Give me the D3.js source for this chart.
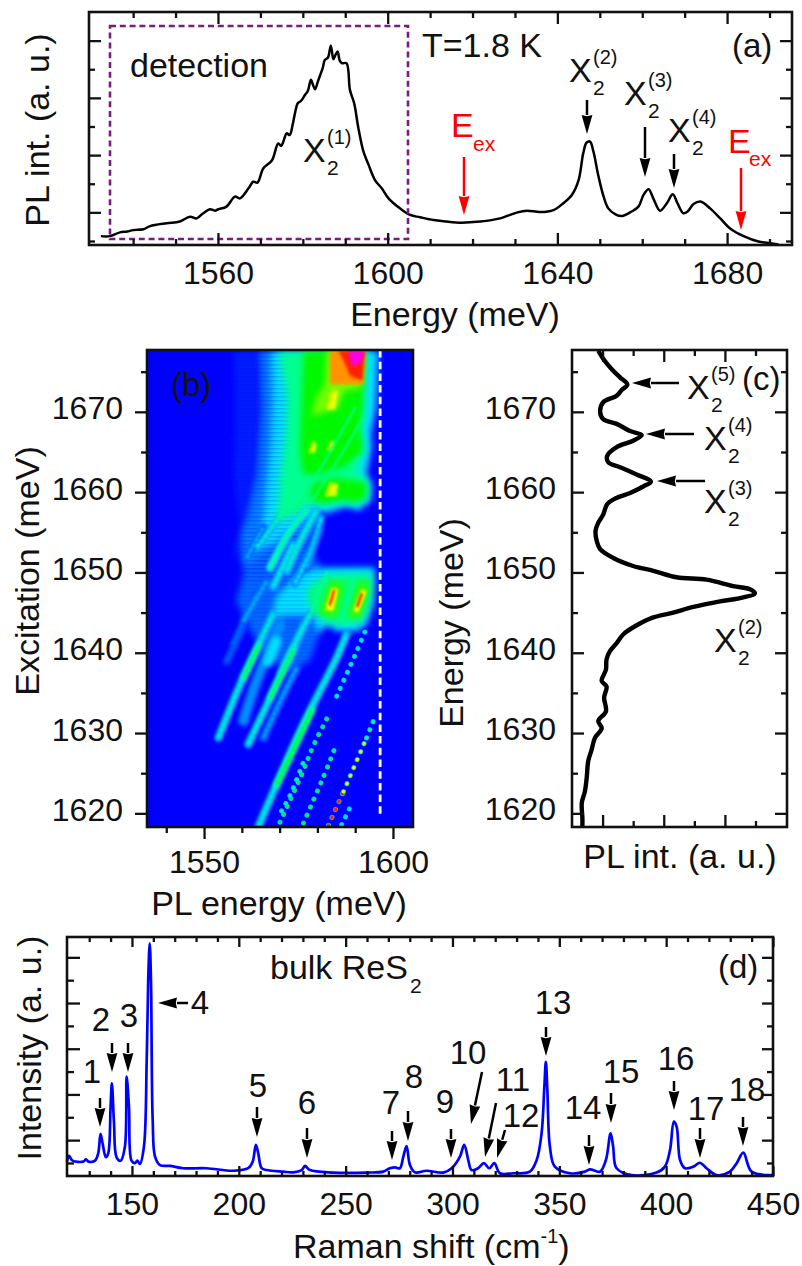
<!DOCTYPE html>
<html lang="en">
<head>
<meta charset="UTF-8">
<title>ReS2 PL and Raman</title>
<script src="https://d3js.org/d3.v7.min.js"></script>
<style>
  html, body { margin: 0; padding: 0; background: #fff; }
  svg { display: block; font-family: "Liberation Sans", Arial, sans-serif; fill: #111; }
  .domain { display: none; }
  .tick line { stroke: #111; stroke-width: 2.3; }
  .tick text { font-size: 32px; fill: #111; }
</style>
</head>
<body>
<svg id="fig" width="802" height="1266"></svg>
<script>
// panel (a) PL spectrum
const aEnergy = [1532.4,1534.5,1536.9,1538.6,1540,1542.4,1544,1547.9,1551,1553.4,1555,1556.5,1558.1,1559.3,1560.1,1562,1564,1565.2,1567.2,1568.3,1569.3,1570.7,1572.7,1574.2,1574.9,1575.4,1576.2,1576.9,1577.6,1578.2,1578.8,1579.6,1580.5,1581.2,1581.9,1582.4,1582.9,1583.5,1584.1,1584.7,1585.2,1585.9,1586.6,1587.2,1587.7,1588.2,1588.7,1589.2,1590.3,1591.1,1592.1,1593.1,1594.3,1595.5,1597,1598.6,1600.2,1602.9,1605.3,1607.6,1610.8,1613.9,1617,1621.8,1626.5,1630.4,1632.8,1635.9,1639.1,1641.4,1643.4,1645,1646.1,1646.9,1647.7,1648.5,1649.7,1650.9,1652,1653.6,1655.2,1657.5,1659.1,1660.3,1661.5,1662.6,1664.2,1665.8,1667.2,1668.3,1669.7,1670.7,1672.1,1673.7,1676,1678.4,1680.7,1683.9,1687.4,1690.2,1692.1];
const aIntensity = [0.17,0.17,0.3,0.33,0.38,0.41,0.52,0.62,0.68,0.85,0.79,0.97,1.11,1.06,1.11,1.2,1.55,1.49,1.84,2.07,2.04,2.54,2.81,3.41,3.32,3.47,3.76,3.7,4.06,4.5,4.81,4.9,5.1,5.25,5.63,5.45,5.3,5.55,5.8,6.05,6.33,6.4,6.82,6.35,6.5,6.62,6.3,6.21,6.21,5.28,4.81,3.94,3.12,2.66,2.13,1.84,1.49,1.14,0.91,0.83,0.73,0.68,0.64,0.68,0.79,0.99,1.06,1.01,1.08,1.32,1.61,2.13,3.07,3.44,3.47,3.12,2.25,1.55,1.14,0.94,0.87,1.03,1.2,1.61,1.81,1.49,1.06,1.32,1.63,1.32,0.97,1.03,1.29,1.38,1.14,0.79,0.44,0.17,-0.02,-0.08,-0.12];
const aMajorX = [1560,1600,1640,1680];
const aMinorX = [1540,1550,1570,1580,1590,1610,1620,1630,1650,1660,1670,1690];
const aMajorY = [1,3,5,7];
const aMinorY = [0,2,4,6];

// panel (b) map: contours, level 0 (blue) .. 9 (magenta)
const mapBackContours = [
  {level:0.3, pl:[1557.8,1558.2,1557.8,1559.5,1557.8,1561.3,1567.5,1572.8,1579.8,1583.3], ex:[1677.6,1670.5,1662.2,1655.6,1652.9,1648.9,1648.1,1652.2,1657.2,1677.6]},
  {level:1.3, pl:[1565.3,1565.7,1564.4,1561.7,1560,1560.8,1567.5,1571.9,1576.3,1579.8,1583.3], ex:[1677.6,1670.5,1662.2,1656.8,1654.7,1650.6,1648.1,1648.3,1651.8,1656.4,1677.6]},
  {level:1.1, pl:[1558.5,1562,1566,1572,1578,1581,1582,1575,1561], ex:[1646.5,1643,1640,1637.5,1639,1643,1650,1655,1650.6]},
  {level:2, pl:[1567.9,1596.1,1595.5,1594.1,1594.4,1592.9,1594.4,1594.1,1590.8,1587.7,1582.5,1578.7,1574.5,1569.2,1565.7,1565.3,1566.1,1567,1567.9,1568.3], ex:[1677.6,1677.6,1670.5,1667.2,1665.6,1662.2,1661,1658.9,1657.7,1658.2,1657.4,1657.9,1656.2,1653.9,1653.1,1654.3,1658.1,1662.2,1666.4,1671.8]},
  {level:2, pl:[1582.5,1595.2,1595,1594.8,1593,1590.4,1585.1,1582.9,1580.2,1578.9,1571.9,1568.3,1569.2,1573.6,1578], ex:[1650.6,1650.6,1647.7,1646,1643.5,1642.7,1642.7,1643.5,1642.5,1644.8,1644.8,1644.4,1646.9,1649.1,1650.2]}
];
const mapFrontContours = [
  {level:3, pl:[1569.7,1592.6,1592.2,1591.3,1592.2,1590.4,1593.2,1593.2,1590.4,1586.9,1580.7,1578,1573.6,1570.1,1568.8,1569.7,1570.1,1571.4,1571.9], ex:[1677.6,1677.6,1670.5,1668,1665.6,1662.6,1661.4,1659.3,1658.5,1658.8,1658.3,1658.5,1657.2,1656.2,1656.4,1659.3,1662.2,1666.4,1671.8]},
  {level:4, pl:[1576.3,1592.6,1592,1591.3,1592,1586.9,1579.8,1576.3,1575.4,1575.8], ex:[1677.6,1677.6,1670.5,1668,1665.1,1663.1,1662.2,1662.2,1665.1,1670.6]},
  {level:4, pl:[1578.5,1584.2,1592.8,1592.8,1590.4,1586.9,1581.1,1578], ex:[1661,1661.8,1661.2,1659.3,1658.8,1659,1658.6,1659.3]},
  {level:3.2, pl:[1582.5,1594.4,1594.1,1592.6,1590.4,1586.9,1583.3,1580.7,1578.5,1577.2,1578.5], ex:[1649.6,1649.8,1646.9,1644.8,1643.7,1643.5,1643.7,1644.4,1645.2,1647.3,1648.5]},
  {level:4.3, pl:[1580.5,1583.5,1587,1585], ex:[1644.8,1649,1648.6,1644.4]},
  {level:4.3, pl:[1588,1591,1594,1591.5], ex:[1644.5,1649,1648.5,1644.2]},
  {level:4.7, pl:[1582.5,1592.5,1591.7,1586.9,1585.5,1578.5,1579.8,1582], ex:[1677.6,1677.6,1673,1672.6,1670.5,1669.5,1671.8,1673.4]},
  {level:5.6, pl:[1582,1583.3,1585.5,1585.1], ex:[1659.5,1661.2,1661,1659.5]},
  {level:5.6, pl:[1577.6,1578.9,1579.8,1579.4], ex:[1664.9,1666.4,1666,1664.9]},
  {level:5.6, pl:[1582.5,1583.8,1584.7,1583.8], ex:[1665.3,1666.4,1666.2,1665.1]},
  {level:5.8, pl:[1582.5,1583.8,1585.5,1584.7], ex:[1670.3,1672.6,1672.6,1670.3]},
  {level:6, pl:[1582,1583.8,1585.5,1584.2], ex:[1645.4,1648.1,1647.9,1645.2]},
  {level:6, pl:[1589.5,1591.7,1593,1590.8], ex:[1645.2,1647.9,1647.7,1645]},
  {level:7, pl:[1583.3,1592.6,1592,1583.3], ex:[1677.6,1677.6,1673.4,1673.4]},
  {level:8, pl:[1585.5,1592.6,1591.9,1588.6,1586.9], ex:[1677.6,1677.6,1673.9,1674.5,1676.4]},
  {level:9, pl:[1588.2,1592.6,1591.9,1590.4,1588.8], ex:[1677.6,1677.6,1676.4,1675.7,1676]}
];
const mapWideBands = [
  {level:1.4, pl:[1560.4,1563.9,1567.5,1570.1], ex:[1631.5,1636.5,1640.6,1643.5]},
  {level:2, pl:[1567,1569.2], ex:[1638.9,1641.4]}
];
const mapLines = [
  {level:2.4, pl:[1563.9,1571.9], ex:[1653.1,1658.1]},
  {level:2.4, pl:[1568.3,1573.6], ex:[1648.2,1653.5]},
  {level:3, pl:[1567.5,1572.8,1577.2], ex:[1650.6,1655.2,1657.7]},
  {level:2.5, pl:[1571.9,1575.4,1579.8], ex:[1650.2,1653.9,1657.7]},
  {level:2, pl:[1574,1578,1581], ex:[1648.6,1652.5,1656.8]},
  {level:1.6, pl:[1577.2,1580.7], ex:[1650.6,1655.6]},
  {level:1.6, pl:[1561.3,1565.7], ex:[1651.8,1655.6]},
  {level:1.3, pl:[1557.8,1563.9], ex:[1641,1647.3]},
  {level:1.6, pl:[1560.4,1566.6], ex:[1643.9,1648.9]},
  {level:1.8, pl:[1570.1,1576.3], ex:[1637.3,1643.5]},
  {level:2.4, pl:[1553.8,1559.5,1564.4,1568.3], ex:[1629.4,1636,1641,1644.8]},
  {level:3.5, pl:[1560.4,1564.4], ex:[1636.9,1640.8]},
  {level:1, pl:[1556,1560.8], ex:[1638.9,1643.7]},
  {level:2.4, pl:[1561.7,1567.5,1572.8,1578], ex:[1628.6,1634.4,1639.8,1644.8]},
  {level:3.5, pl:[1567.5,1573.6], ex:[1634.4,1640.4]},
  {level:2.4, pl:[1564.4,1570.1,1575.4,1578.9,1585.1,1587.7], ex:[1618.4,1624.6,1630.2,1633.6,1639.4,1642.3]},
  {level:3.8, pl:[1569.2,1578.5], ex:[1623.6,1632.9]},
  {level:1.5, pl:[1565.7,1570.1,1574.5], ex:[1629.4,1633.9,1638.1]}
];
const mapDotLines = [
  {level:3.8, pl:[1570.1,1575.8,1578.9,1583.3], ex:[1618.9,1624.8,1628.4,1632.5]},
  {level:2.2, pl:[1585.1,1590.4,1593], ex:[1634.6,1640.2,1643.1]},
  {level:3.6, pl:[1576.3,1581.1,1584.7], ex:[1618.8,1624,1628.2]},
  {level:8, pl:[1582.9,1586.9], ex:[1618.5,1622.7]},
  {level:5.5, pl:[1586.9,1593], ex:[1622.7,1629.4]},
  {level:3, pl:[1593,1594.8], ex:[1629.4,1631.5]},
  {level:2, pl:[1586.4,1588.6], ex:[1618.6,1620.7]},
  {level:2.4, pl:[1570.5,1572.8,1576.3], ex:[1620.3,1622.3,1626.4]}
];
const mapTopLines = [
  {level:3.2, pl:[1578,1586.9,1592.2], ex:[1658.5,1665.1,1669.3]},
  {level:3.2, pl:[1573.6,1582.5,1590], ex:[1657.2,1664.3,1670.5]},
  {level:2.9, pl:[1578,1582.5], ex:[1644.5,1650]},
  {level:2.9, pl:[1586.5,1590], ex:[1644,1649.5]},
  {level:8, pl:[1583.3,1584.4], ex:[1646,1647.7]},
  {level:8, pl:[1590.6,1591.7], ex:[1645.8,1647.3]}
];
const mapLevels = [0,1,2,3,4,5,6,7,8,9];
const mapColors = ["#0000ff","#0058ff","#00e0ff","#00ff90","#00f800","#a8ff00","#ffff00","#ff9400","#ff2000","#ff00e0"];
const bMajorX = [1550,1600];
const bMinorX = [1540,1560,1570,1580,1590];
const exMajor = [1620,1630,1640,1650,1660,1670];
const exMinor = [1625,1635,1645,1655,1665,1675];
const detectionLine = 1596.6;

// panel (c) PLE spectrum
const cIntensity = [0.86,1.02,1.3,1.57,1.81,1.62,1.46,1.02,0.92,1.02,1.46,1.9,2.28,2,1.46,1.15,1.19,1.57,2.11,2.58,2.33,1.9,1.41,1.15,1.02,0.86,0.77,0.81,0.92,1.35,2,2.66,3.42,4.4,5.27,5.82,5.98,5.49,4.84,3.97,3.31,2.66,2.06,1.68,1.46,1.24,1.13,1.11,0.97,1.13,1.05,1.11,0.86,0.97,0.75,0.64,0.53,0.48,0.42,0.32,0.34,0.34];
const cExcitation = [1677.6,1676.6,1675.3,1674.3,1673.4,1672.7,1672,1671.2,1670,1669.1,1668.5,1667.6,1667.1,1666.4,1665.6,1664.5,1663.7,1663.1,1662.2,1661.3,1660.7,1659.9,1659.2,1658.5,1657.2,1656.2,1655.2,1653.9,1652.9,1651.8,1650.8,1650.2,1649.4,1649.1,1648.3,1647.9,1647.4,1646.8,1646.4,1645.7,1645,1644.4,1643.3,1642.3,1641.2,1640.2,1639.2,1637.9,1636.5,1635.8,1634.4,1632.7,1631.5,1630.6,1629.4,1627.9,1626.5,1624.4,1622.7,1621.3,1619.4,1618.4];
const cMajorX = [1,3,5];
const cMinorX = [2,4,6];

// panel (d) Raman spectrum
const dShift = [119.6,120.5,122.2,127.2,128.5,129.6,132.7,134.2,135.3,136.3,137.8,138.9,140,140.6,141.6,142.8,144.7,146.7,147.5,148.6,149.8,151.4,152.5,153.7,155.6,156.9,157.6,158.3,158.9,159.7,160.8,163.1,167.8,174,184.9,197.4,204.4,206.5,208,209.1,210.7,213,220.8,225.5,229.4,231,233.3,244.2,259.8,267.6,270.7,273.1,275.4,277,278.5,280.1,282.4,287.9,295.7,299.6,303.5,305.5,307.4,308.9,312,314.7,317.2,319.6,322.2,328.4,336.2,339.4,341.7,343,343.7,344.4,345.6,347.9,355,362,364.3,369,371.8,374,375.2,376.8,383.8,395.5,399.4,401.8,403.6,404.9,406.5,408.8,412.7,415.8,418.9,423.6,429.8,433,436.1,440,449.8];
const dIntensity = [0.06,0.31,0.1,0.06,0.16,0.06,0.1,0.42,1.27,0.83,0.25,0.42,2.47,3.49,1.74,0.25,0.1,0.71,3.78,2.47,0.1,-0.01,0.1,-0.04,0.71,4.51,8.01,9.61,8.01,1.88,0.28,-0.09,-0.13,-0.23,-0.23,-0.34,-0.23,0.06,0.79,0.42,-0.23,-0.31,-0.38,-0.41,-0.31,-0.13,-0.31,-0.42,-0.42,-0.38,-0.23,-0.19,-0.23,0.28,0.74,-0.09,-0.41,-0.34,-0.42,-0.23,0.28,0.79,0.13,-0.31,-0.23,-0.01,-0.23,-0.01,-0.45,-0.45,-0.38,0.13,1.3,3.34,4.43,3.19,0.71,-0.16,-0.45,-0.38,-0.28,-0.38,0.13,1.3,0.71,-0.23,-0.53,-0.42,-0.16,0.57,1.81,1.59,0.13,-0.23,-0.16,0.01,-0.23,-0.53,-0.38,-0.01,0.45,-0.38,-0.53];
const dMajorX = [150,200,250,300,350,400,450];
const dMinorX = [130,140,160,170,180,190,210,220,230,240,260,270,280,290,310,320,330,340,360,370,380,390,410,420,430,440];
const dMajorY = [1,3,5,7,9];
const dMinorY = [0,2,4,6,8];

// pixel boxes of the four panels
const boxA = {l:89, r:792, t:12, b:245};
const boxB = {l:147, r:413, t:350, b:827};
const boxC = {l:572, r:787, t:350, b:827};
const boxD = {l:67, r:773, t:937, b:1176};

const xA = d3.scaleLinear().domain([1529.6,1695.3]).range([boxA.l, boxA.r]);
const yA = d3.scaleLinear().domain([-0.14,8]).range([boxA.b, boxA.t]);
const xB = d3.scaleLinear().domain([1534.9,1605.3]).range([boxB.l, boxB.r]);
const yEx = d3.scaleLinear().domain([1618.3,1677.7]).range([boxB.b, boxB.t]);
const xC = d3.scaleLinear().domain([0,7.03]).range([boxC.l, boxC.r]);
const xD = d3.scaleLinear().domain([119.6,450]).range([boxD.l, boxD.r]);
const yD = d3.scaleLinear().domain([-0.57,9.89]).range([boxD.b, boxD.t]);
const mapColor = d3.scaleLinear().domain(mapLevels).range(mapColors);

const svg = d3.select("#fig");
const defs = svg.append("defs");
[["blur4", 4], ["blur3", 3], ["blur2", 2], ["blur15", 1.5], ["blur1", 0.9], ["blur05", 0.6]].forEach(([id, s]) => {
  defs.append("filter").attr("id", id)
    .attr("filterUnits", "userSpaceOnUse")
    .attr("x", boxB.l - 20).attr("y", boxB.t - 20)
    .attr("width", boxB.r - boxB.l + 40).attr("height", boxB.b - boxB.t + 40)
    .append("feGaussianBlur").attr("stdDeviation", s);
});
defs.append("clipPath").attr("id", "mapClip").append("rect")
  .attr("x", boxB.l).attr("y", boxB.t)
  .attr("width", boxB.r - boxB.l).attr("height", boxB.b - boxB.t);
// faint row striping of the scanned map
const rows = defs.append("pattern").attr("id", "rows").attr("patternUnits", "userSpaceOnUse")
  .attr("width", 4).attr("height", 4);
rows.append("rect").attr("width", 4).attr("height", 1.5).attr("fill", "#0000ff").attr("opacity", 0.12);

// draws one set of ticks, labels optional
function ticks(axisFn, scale, pos, values, size, labelled) {
  const axis = axisFn(scale).tickValues(values).tickSize(size).tickPadding(labelled ? labelled : 3)
    .tickFormat(labelled ? d3.format("d") : "");
  const isX = axisFn === d3.axisBottom || axisFn === d3.axisTop;
  return svg.append("g")
    .attr("transform", isX ? `translate(0,${pos})` : `translate(${pos},0)`)
    .attr("font-family", null).attr("font-size", null)
    .call(axis);
}

function frame(box) {
  svg.append("rect").attr("x", box.l).attr("y", box.t)
    .attr("width", box.r - box.l).attr("height", box.b - box.t)
    .attr("fill", "none").attr("stroke", "#111").attr("stroke-width", 2.6);
}

function text(str, x, y, size, color) {
  return svg.append("text").attr("x", x).attr("y", y)
    .attr("font-size", size).attr("fill", color || "#111").text(str);
}

function centered(str, x, y, size) {
  return text(str, x, y, size).attr("text-anchor", "middle");
}

function rotated(str, x, y, size) {
  return svg.append("text").attr("transform", `translate(${x},${y}) rotate(-90)`)
    .attr("text-anchor", "middle").attr("font-size", size).attr("fill", "#111").text(str);
}

// X with subscript 2 and superscript (n)
function exciton(n, x, y) {
  text("X", x, y, 34);
  text(`(${n})`, x + 24, y - 18, 20);
  text("2", x + 24, y + 13, 21);
}

// straight arrow with a long narrow head, tip at (x1,y1)
function arrow(x0, y0, x1, y1, color) {
  const c = color || "#000";
  const len = Math.hypot(x1 - x0, y1 - y0), ux = (x1 - x0) / len, uy = (y1 - y0) / len;
  const hl = 19, hw = 5.4, bx = x1 - ux * hl, by = y1 - uy * hl;
  svg.append("line").attr("x1", x0).attr("y1", y0).attr("x2", bx).attr("y2", by)
    .attr("stroke", c).attr("stroke-width", 2.5);
  const nx = -uy, ny = ux;
  svg.append("polygon").attr("fill", c).attr("points", [
    [x1, y1], [bx + nx * hw, by + ny * hw], [bx + ux * 1.2, by + uy * 1.2], [bx - nx * hw, by - ny * hw]
  ].map(p => p.join(",")).join(" "));
}

const smooth = d3.curveCatmullRom.alpha(0.5);

// ---- panel a
svg.append("path").datum(d3.zip(aEnergy, aIntensity))
  .attr("d", d3.line().curve(smooth).x(d => xA(d[0])).y(d => yA(d[1])))
  .attr("fill", "none").attr("stroke", "#000").attr("stroke-width", 2.5).attr("stroke-linejoin", "round");
svg.append("rect").attr("x", 110).attr("y", 26).attr("width", 298).attr("height", 213)
  .attr("fill", "none").attr("stroke", "#7a1b7e").attr("stroke-width", 2.6).attr("stroke-dasharray", "6 3.8");
ticks(d3.axisBottom, xA, boxA.b, aMajorX, -12, 16);
ticks(d3.axisBottom, xA, boxA.b, aMinorX, -6);
ticks(d3.axisTop, xA, boxA.t, aMajorX, -12);
ticks(d3.axisTop, xA, boxA.t, aMinorX, -6);
ticks(d3.axisLeft, yA, boxA.l, aMajorY, -12);
ticks(d3.axisLeft, yA, boxA.l, aMinorY, -6);
ticks(d3.axisRight, yA, boxA.r, aMajorY, -12);
ticks(d3.axisRight, yA, boxA.r, aMinorY, -6);
frame(boxA);
rotated("PL int. (a. u.)", 49, 130, 34);
centered("Energy (meV)", 455, 326, 34);
text("detection", 130, 77, 34);
text("T=1.8 K", 422, 57, 34);
text("(a)", 732, 57, 33);
exciton(1, 303, 162);
exciton(2, 569, 82);
exciton(3, 624, 105);
exciton(4, 668, 142);
arrow(587, 100, 587, 134);
arrow(645, 127, 645, 177);
arrow(674, 154, 674, 188);
text("E", 451, 137, 34, "#f00");
text("ex", 473, 151, 21, "#f00");
text("E", 728, 153, 34, "#f00");
text("ex", 749, 166, 21, "#f00");
arrow(464, 157, 464, 215, "#f00");
arrow(741, 168, 741, 230, "#f00");

// ---- panel b
const mapG = svg.append("g").attr("clip-path", "url(#mapClip)");
mapG.append("rect").attr("x", boxB.l).attr("y", boxB.t)
  .attr("width", boxB.r - boxB.l).attr("height", boxB.b - boxB.t).attr("fill", mapColor(0));
const mapLine = d3.line().x(d => xB(d[0])).y(d => yEx(d[1]));
const mapArea = d => mapLine(d3.zip(d.pl, d.ex)) + "Z";
const strokeLine = d => d3.line().x(p => xB(p[0])).y(p => yEx(p[1])).curve(d3.curveCatmullRom)(d3.zip(d.pl, d.ex));

mapG.append("g").attr("filter", "url(#blur3)").selectAll("path").data(mapBackContours).join("path")
  .attr("d", mapArea).attr("fill", d => mapColor(d.level));
mapG.append("g").selectAll("path").data(mapBackContours.slice(0, 3)).join("path")
  .attr("d", mapArea).attr("fill", "url(#rows)");
mapG.append("g").attr("filter", "url(#blur2)").selectAll("path").data(mapWideBands).join("path")
  .attr("d", strokeLine).attr("fill", "none").attr("stroke", d => mapColor(d.level))
  .attr("stroke-width", 10).attr("stroke-linecap", "round");
// glow under each streak, then a beaded core
mapG.append("g").attr("filter", "url(#blur15)").selectAll("path").data(mapLines).join("path")
  .attr("d", strokeLine).attr("fill", "none").attr("stroke", d => mapColor(d.level * 0.7))
  .attr("stroke-width", 8).attr("stroke-linecap", "round");
mapG.append("g").attr("filter", "url(#blur1)").selectAll("path").data(mapLines).join("path")
  .attr("d", strokeLine).attr("fill", "none").attr("stroke", d => mapColor(d.level))
  .attr("stroke-width", 3.4).attr("stroke-dasharray", "5 1");
mapG.append("g").attr("filter", "url(#blur05)").selectAll("path").data(mapDotLines).join("path")
  .attr("d", strokeLine).attr("fill", "none").attr("stroke", "#00c8ff")
  .attr("stroke-width", 5).attr("stroke-linecap", "round").attr("stroke-dasharray", "0.1 8.6");
mapG.append("g").selectAll("path").data(mapDotLines).join("path")
  .attr("d", strokeLine).attr("fill", "none").attr("stroke", d => mapColor(d.level))
  .attr("stroke-width", 3.4).attr("stroke-linecap", "round").attr("stroke-dasharray", "0.1 8.6");
mapG.append("g").selectAll("path").data(mapFrontContours).join("path")
  .attr("d", mapArea).attr("fill", d => mapColor(d.level))
  .attr("filter", d => d.level < 3.5 ? "url(#blur4)" : d.level <= 5 ? "url(#blur3)" : "url(#blur15)");
mapG.append("g").attr("filter", "url(#blur1)").selectAll("path").data(mapTopLines).join("path")
  .attr("d", strokeLine).attr("fill", "none").attr("stroke", d => mapColor(d.level))
  .attr("stroke-width", 2.4).attr("stroke-linecap", "round");
mapG.append("line").attr("x1", xB(detectionLine)).attr("x2", xB(detectionLine))
  .attr("y1", boxB.t).attr("y2", yEx(1619.6))
  .attr("stroke", "#fff").attr("stroke-width", 2.8).attr("stroke-dasharray", "7.5 4.2");

ticks(d3.axisLeft, yEx, boxB.l, exMajor, 12, 12).selectAll("text").attr("dy", "0.22em");
ticks(d3.axisLeft, yEx, boxB.l, exMinor, 6);
ticks(d3.axisBottom, xB, boxB.b, bMajorX, 12, 11);
ticks(d3.axisBottom, xB, boxB.b, bMinorX, 6);
frame(boxB);
text("(b)", 171, 396, 33);
centered("PL energy (meV)", 279, 915, 34);
rotated("Excitation (meV)", 39, 571, 34);

// ---- panel c
svg.append("path").datum(d3.zip(cIntensity, cExcitation))
  .attr("d", d3.line().curve(smooth).x(d => xC(d[0])).y(d => yEx(d[1])))
  .attr("fill", "none").attr("stroke", "#000").attr("stroke-width", 4.4).attr("stroke-linejoin", "round");
ticks(d3.axisLeft, yEx, boxC.l, exMajor, -12);
ticks(d3.axisLeft, yEx, boxC.l, exMinor, -6);
ticks(d3.axisRight, yEx, boxC.r, exMajor, -12);
ticks(d3.axisRight, yEx, boxC.r, exMinor, -6);
ticks(d3.axisBottom, xC, boxC.b, cMajorX, -12);
ticks(d3.axisBottom, xC, boxC.b, cMinorX, -6);
ticks(d3.axisTop, xC, boxC.t, cMajorX, -12);
ticks(d3.axisTop, xC, boxC.t, cMinorX, -6);
frame(boxC);
exMajor.forEach(v => text(v, 556, yEx(v) + 7, 32).attr("text-anchor", "end"));
rotated("Energy (meV)", 463, 623, 34);
centered("PL int. (a. u.)", 680, 868, 34);
text("(c)", 742, 390, 33);
exciton(5, 687, 399);
exciton(4, 704, 450);
exciton(3, 704, 513);
exciton(2, 714, 652);
arrow(679, 383, 632, 383);
arrow(694, 434, 646, 434);
arrow(705, 481, 657, 481);

// ---- panel d
svg.append("path").datum(d3.zip(dShift, dIntensity))
  .attr("d", d3.line().curve(smooth).x(d => xD(d[0])).y(d => yD(d[1])))
  .attr("fill", "none").attr("stroke", "#0000ff").attr("stroke-width", 2.7).attr("stroke-linejoin", "round");
ticks(d3.axisBottom, xD, boxD.b, dMajorX, -10, 16);
ticks(d3.axisBottom, xD, boxD.b, dMinorX, -5);
ticks(d3.axisTop, xD, boxD.t, dMajorX, -10);
ticks(d3.axisTop, xD, boxD.t, dMinorX, -5);
ticks(d3.axisLeft, yD, boxD.l, dMajorY, -13);
ticks(d3.axisLeft, yD, boxD.l, dMinorY, -7);
ticks(d3.axisRight, yD, boxD.r, dMajorY, -11);
ticks(d3.axisRight, yD, boxD.r, dMinorY, -6);
frame(boxD);
rotated("Intensity (a. u.)", 41, 1048, 34);
const ramanLabel = svg.append("text").attr("x", 293).attr("y", 1258).attr("font-size", 34).attr("fill", "#111");
ramanLabel.append("tspan").text("Raman shift (cm");
ramanLabel.append("tspan").attr("font-size", 20).attr("dy", -15).text("-1");
ramanLabel.append("tspan").attr("dy", 15).text(")");
text("bulk ReS", 270, 979, 34);
text("2", 410, 993, 21);
text("(d)", 718, 978, 33);

// peak number, label centre and baseline, arrow start and tip
const peakMarks = [
  ["1", 92, 1083, 100, 1098, 100, 1127], ["2", 101, 1031, 112, 1043, 112, 1072],
  ["3", 129, 1027, 128, 1043, 128, 1072], ["4", 200, 1014, 188, 1003, 158, 1003],
  ["5", 258, 1097, 257, 1107, 257, 1137], ["6", 307, 1114, 307, 1128, 307, 1158],
  ["7", 391, 1114, 392, 1131, 392, 1160], ["8", 414, 1088, 408, 1111, 408, 1141],
  ["9", 445, 1113, 451, 1129, 451, 1158], ["10", 468, 1064, 482, 1072, 471, 1124],
  ["11", 513, 1091, 496, 1103, 485, 1157], ["12", 521, 1127, 505, 1130, 497, 1158],
  ["13", 553, 1014, 546, 1027, 546, 1056], ["14", 583, 1119, 589, 1135, 589, 1165],
  ["15", 621, 1083, 611, 1093, 611, 1123], ["16", 676, 1070, 674, 1081, 674, 1110],
  ["17", 706, 1120, 700, 1128, 700, 1158], ["18", 747, 1101, 743, 1117, 743, 1146]
];
peakMarks.forEach(m => {
  centered(m[0], m[1], m[2], 33);
  arrow(m[3], m[4], m[5], m[6]);
});
</script>
</body>
</html>
